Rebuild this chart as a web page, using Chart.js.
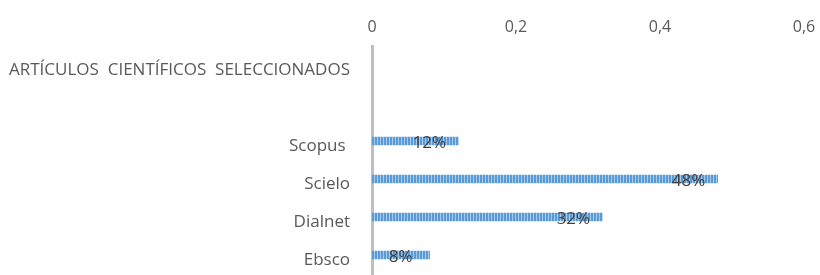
<!DOCTYPE html>
<html lang="es">
<head>
  <meta charset="UTF-8" />
  <title>Artículos científicos seleccionados</title>
  <script src="https://cdn.jsdelivr.net/npm/chart.js"></script>
  <style>
    body { margin: 0; background: #fff; }
    #wrap { width: 820px; height: 275px; position: relative; }
  </style>
</head>
<body>
  <div id="wrap"><canvas id="chart"></canvas></div>
  <script>
    const categories = ['ARTÍCULOS  CIENTÍFICOS  SELECCIONADOS', '', 'Scopus ', 'Scielo', 'Dialnet', 'Ebsco'];
    const values = [null, null, 0.12, 0.48, 0.32, 0.08];
    const valueLabels = ['', '', '12%', '48%', '32%', '8%'];
    const xTicks = [0, 0.2, 0.4, 0.6];

    // striped fill like the original bars
    function stripes() {
      const c = document.createElement('canvas');
      c.width = 3; c.height = 8;
      const g = c.getContext('2d');
      g.fillStyle = '#5b9bd5'; g.fillRect(0, 0, 2, 8);
      g.fillStyle = '#a9cbea'; g.fillRect(2, 0, 1, 8);
      return g.createPattern(c, 'repeat');
    }

    const barLabels = {
      id: 'barLabels',
      afterDatasetsDraw(chart) {
        const ctx = chart.ctx;
        const meta = chart.getDatasetMeta(0);
        ctx.save();
        ctx.font = '17px "Open Sans", sans-serif';
        ctx.fillStyle = '#404040';
        ctx.textAlign = 'center';
        ctx.textBaseline = 'middle';
        meta.data.forEach((bar, i) => {
          if (values[i] == null) return;
          ctx.fillText(valueLabels[i], bar.x - 29, bar.y + 2);
        });
        ctx.restore();
      }
    };

    const ctx = document.getElementById('chart').getContext('2d');
    new Chart(ctx, {
      type: 'bar',
      data: {
        labels: categories,
        datasets: [{
          data: values,
          backgroundColor: stripes(),
          borderWidth: 0,
          barThickness: 8
        }]
      },
      options: {
        indexAxis: 'y',
        responsive: true,
        maintainAspectRatio: false,
        animation: false,
        layout: { padding: { right: 16, bottom: 1 } },
        plugins: { legend: { display: false }, tooltip: { enabled: false } },
        scales: {
          x: {
            position: 'top',
            min: 0,
            max: 0.6,
            afterBuildTicks: s => { s.ticks = xTicks.map(v => ({ value: v })); },
            afterFit: s => { s.height = 46; s.paddingLeft = 0; s.paddingRight = 0; },
            grid: { display: false },
            border: { display: false },
            ticks: {
              color: '#595959',
              font: { family: '"Open Sans", sans-serif', size: 16 },
              padding: 1,
              callback: v => String(v).replace('.', ',')
            }
          },
          y: {
            afterFit: s => { s.width = 372; s.paddingTop = 0; s.paddingBottom = 0; },
            grid: { display: false },
            border: { display: true, color: '#bfbfbf', width: 3 },
            ticks: {
              color: '#595959',
              font: { family: '"Open Sans", sans-serif', size: 17 },
              padding: 14,
              labelOffset: 5
            }
          }
        }
      },
      plugins: [barLabels]
    });
  </script>
</body>
</html>
